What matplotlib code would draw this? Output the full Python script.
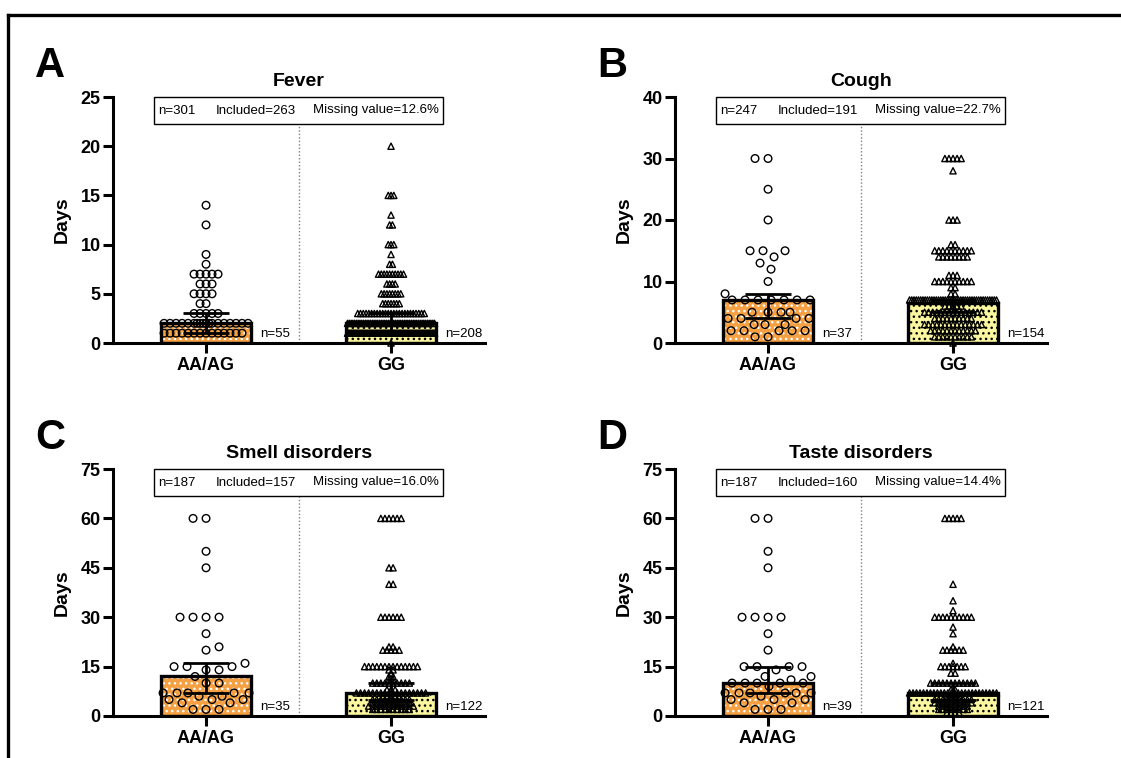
import math
import matplotlib
matplotlib.use('Agg')
import matplotlib.pyplot as plt
import matplotlib.transforms as mtransforms
from matplotlib.patches import Rectangle
from matplotlib.lines import Line2D

plt.rcParams['font.family'] = ['Liberation Sans', 'DejaVu Sans']
plt.rcParams['hatch.linewidth'] = 1.0

# ---- data ----
groups = ['AA/AG', 'GG']
titles = ['Fever', 'Cough', 'Smell disorders', 'Taste disorders']
letters = ['A', 'B', 'C', 'D']
box_n = [301, 247, 187, 187]
box_included = [263, 191, 157, 160]
box_missing = ['12.6%', '22.7%', '16.0%', '14.4%']
group_n = [[55, 208], [37, 154], [35, 122], [39, 121]]
y_max = [25, 40, 75, 75]
y_step = [5, 10, 15, 15]

# bar height (median) and interquartile range per group
bar_heights = [[2, 2], [7, 6.5], [12, 7], [10, 7]]
err_low = [[1, 1], [4, 5], [7, 5], [7, 5]]
err_high = [[3, 3], [8, 7], [16, 10], [15, 10]]

# individual points: value -> count
fever_aa_vals = [1, 2, 3, 4, 5, 6, 7, 8, 9, 12, 14]
fever_aa_counts = [14, 18, 5, 2, 4, 3, 5, 1, 1, 1, 1]
fever_gg_vals = [0, 1, 2, 3, 4, 5, 6, 7, 8, 9, 10, 12, 13, 15, 20]
fever_gg_counts = [1, 90, 50, 25, 7, 8, 4, 10, 2, 1, 3, 2, 1, 3, 1]

cough_aa_vals = [1, 2, 3, 4, 5, 7, 8, 10, 12, 13, 14, 15, 20, 25, 30]
cough_aa_counts = [2, 5, 3, 4, 4, 7, 1, 1, 1, 1, 1, 3, 1, 1, 2]
cough_gg_vals = [0, 1, 2, 3, 4, 5, 6, 7, 8, 9, 10, 11, 14, 15, 16, 20, 28, 30]
cough_gg_counts = [1, 10, 12, 15, 10, 15, 5, 40, 2, 2, 10, 3, 8, 10, 2, 3, 1, 5]

smell_aa_vals = [2, 4, 5, 6, 7, 10, 12, 14, 15, 16, 20, 21, 25, 30, 45, 50, 60]
smell_aa_counts = [3, 2, 3, 2, 5, 2, 1, 2, 3, 1, 1, 1, 1, 4, 1, 1, 2]
smell_gg_vals = [2, 3, 4, 5, 6, 7, 8, 10, 11, 12, 13, 14, 15, 20, 21, 30, 40, 45, 60]
smell_gg_counts = [10, 12, 10, 10, 5, 18, 3, 10, 2, 2, 1, 2, 14, 5, 2, 6, 2, 2, 6]

taste_aa_vals = [2, 4, 5, 6, 7, 9, 10, 11, 12, 14, 15, 20, 25, 30, 45, 50, 60]
taste_aa_counts = [3, 2, 3, 1, 6, 1, 5, 1, 2, 1, 4, 1, 1, 4, 1, 1, 2]
taste_gg_vals = [1, 2, 3, 4, 5, 6, 7, 8, 10, 13, 15, 16, 20, 21, 25, 27, 30, 32, 35, 40, 60]
taste_gg_counts = [4, 8, 8, 10, 10, 4, 26, 2, 12, 2, 7, 1, 6, 1, 1, 1, 10, 1, 1, 1, 5]

point_vals = [[fever_aa_vals, fever_gg_vals], [cough_aa_vals, cough_gg_vals],
              [smell_aa_vals, smell_gg_vals], [taste_aa_vals, taste_gg_vals]]
point_counts = [[fever_aa_counts, fever_gg_counts], [cough_aa_counts, cough_gg_counts],
                [smell_aa_counts, smell_gg_counts], [taste_aa_counts, taste_gg_counts]]

BAR_COLORS = ['#f5a043', '#fbf7a0']
HATCH_COLORS = ['white', 'black']
MARKERS = ['o', '^']
MARKER_SIZE = [30, 20]
TRI_STEP = [0.015, 0.022, 0.022, 0.022]
BAR_W = 0.486
MAX_W = 0.47
X_PX = 185.0   # pixels per category unit


def row_offsets(k, step, maxw):
    # spread points with the same value side by side, squeeze if too wide
    if k == 1:
        return [0.0]
    sp = min(step, maxw / (k - 1))
    return [(i - (k - 1) / 2) * sp for i in range(k)]


def swarm_offsets(vals, counts, y_px, gap, half=43):
    # simple beeswarm in pixel space: nearest free spot to the centre,
    # or the least crowded spot if the row is full
    cands = sorted(range(-half, half + 1), key=lambda c: (abs(c), -c))
    placed, out = [], []
    for v, c in zip(vals, counts):
        for i in range(c):
            yp = v * y_px
            best, bestd = 0, -1.0
            order = cands if i % 2 == 0 else [-x for x in cands]
            for cx in order:
                md = min((math.hypot(cx - px, yp - py) for px, py in placed), default=1e9)
                if md >= gap:
                    best = cx
                    break
                if md > bestd:
                    best, bestd = cx, md
            placed.append((best, yp))
            out.append((best / X_PX, v))
    return out


W, H = 1121, 758
fig = plt.figure(figsize=(W / 100, H / 100), dpi=100)

# outer frame (only top and left edges visible)
fig.add_artist(Line2D([8 / W, 1], [1 - 15 / H, 1 - 15 / H], color='black', lw=2.4))
fig.add_artist(Line2D([8 / W, 8 / W], [0, 1 - 15 / H], color='black', lw=2.4))

ax_left = [113, 675, 113, 675]
ax_top = [97, 97, 469, 469]
ax_bottom = [343, 343, 716, 716]
ax_w = 372

for p in range(4):
    l, t, b = ax_left[p], ax_top[p], ax_bottom[p]
    ax = fig.add_axes([l / W, 1 - b / H, ax_w / W, (b - t) / H])
    ax.set_xlim(-0.503, 1.508)
    ax.set_ylim(0, y_max[p])
    for s in ['top', 'right']:
        ax.spines[s].set_visible(False)
    for s in ['left', 'bottom']:
        ax.spines[s].set_linewidth(2.2)
    y_px = (b - t) / y_max[p]

    for g in range(2):
        # bar fill with dotted pattern, then a thick outline
        ax.bar(g, bar_heights[p][g], BAR_W, color=BAR_COLORS[g], edgecolor=HATCH_COLORS[g],
               hatch='...', linewidth=0, zorder=1)
        ax.bar(g, bar_heights[p][g], BAR_W, fill=False, edgecolor='black', linewidth=2.4, zorder=1.5)

        counts = point_counts[p][g]
        xs, ys = [], []
        if g == 0:
            gap = min(12.5, 87.0 / (max(counts) - 1))
            for off, v in swarm_offsets(point_vals[p][g], counts, y_px, gap):
                xs.append(g + off)
                ys.append(v)
        else:
            for v, c in zip(point_vals[p][g], counts):
                for off in row_offsets(c, TRI_STEP[p], MAX_W):
                    xs.append(g + off)
                    ys.append(v)
        ax.scatter(xs, ys, s=MARKER_SIZE[g], marker=MARKERS[g], facecolors='none',
                   edgecolors='black', linewidths=1.0, zorder=2, clip_on=False)

        med = bar_heights[p][g]
        ax.errorbar(g, med, yerr=[[med - err_low[p][g]], [err_high[p][g] - med]],
                    fmt='none', ecolor='black', elinewidth=2.0, capsize=16.5, capthick=2.0, zorder=3)

        trans = mtransforms.blended_transform_factory(ax.transData, ax.transAxes)
        ax.text(g + 0.29, 0.025, 'n=%d' % group_n[p][g], transform=trans,
                fontsize=9.5, ha='left', va='baseline')

    trans = mtransforms.blended_transform_factory(ax.transData, ax.transAxes)
    box_h = 27 / (b - t)
    ax.add_patch(Rectangle((-0.281, 1 - box_h), 1.562, box_h, transform=trans,
                           facecolor='white', edgecolor='black', lw=1.0, zorder=4, clip_on=False))
    ty = 1 - box_h / 2
    ax.text(-0.26, ty, 'n=%d' % box_n[p], transform=trans, fontsize=9.5, va='center', zorder=5)
    ax.text(0.054, ty, 'Included=%d' % box_included[p], transform=trans, fontsize=9.5, va='center', zorder=5)
    ax.text(0.578, ty, 'Missing value=' + box_missing[p], transform=trans, fontsize=9.5, va='center', zorder=5)
    ax.plot([0.5, 0.5], [0, 1 - box_h], transform=trans, color='#808080', lw=1.0,
            linestyle=(0, (1, 1.5)), zorder=0.5)

    ax.set_xticks([0, 1])
    ax.set_xticklabels(groups, fontsize=12.5, fontweight='bold')
    ax.set_yticks(range(0, y_max[p] + 1, y_step[p]))
    ax.tick_params(axis='both', length=7, width=2.2, direction='out', labelsize=13)
    ax.tick_params(axis='x', pad=3)
    ax.tick_params(axis='y', pad=2)
    for lab in ax.get_yticklabels():
        lab.set_fontweight('bold')
    ax.set_ylabel('Days', fontsize=14, fontweight='bold')
    ax.yaxis.set_label_coords(-0.113, 0.5)
    ax.set_title(titles[p], fontsize=14, fontweight='bold', pad=8)

    fig.text((l - 78) / W, 1 - (t - 20) / H, letters[p], fontsize=30, fontweight='bold',
             ha='left', va='baseline')

fig.savefig('out.png', dpi=100)
